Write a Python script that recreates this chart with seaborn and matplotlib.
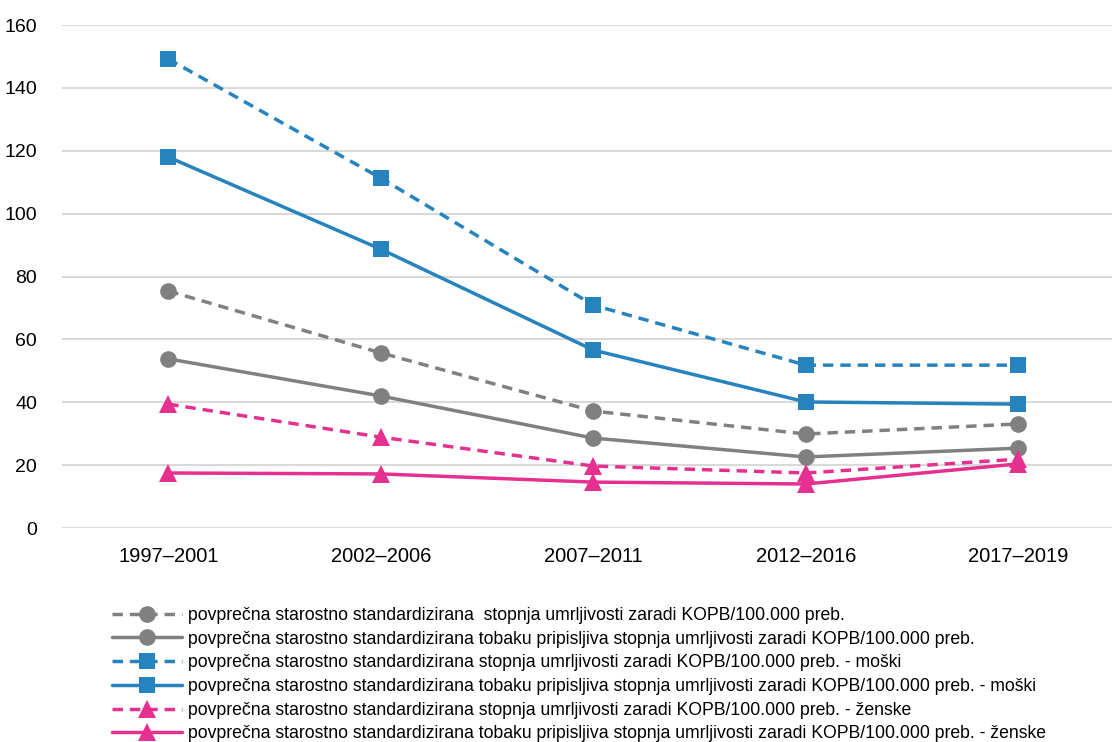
import matplotlib
matplotlib.use("Agg")
import matplotlib.pyplot as plt
import seaborn as sns
import pandas as pd

periods = ["1997–2001", "2002–2006", "2007–2011", "2012–2016", "2017–2019"]

skupaj_vsi = [75.4, 55.7, 37.2, 29.9, 33.1]
skupaj_tobak = [53.8, 42.0, 28.6, 22.6, 25.4]
moski_vsi = [149.2, 111.3, 70.9, 51.8, 51.8]
moski_tobak = [118.0, 88.7, 56.6, 40.1, 39.4]
zenske_vsi = [39.4, 28.9, 19.7, 17.5, 21.9]
zenske_tobak = [17.5, 17.2, 14.6, 14.0, 20.4]

labels = [
    "povprečna starostno standardizirana  stopnja umrljivosti zaradi KOPB/100.000 preb.",
    "povprečna starostno standardizirana tobaku pripisljiva stopnja umrljivosti zaradi KOPB/100.000 preb.",
    "povprečna starostno standardizirana stopnja umrljivosti zaradi KOPB/100.000 preb. - moški",
    "povprečna starostno standardizirana tobaku pripisljiva stopnja umrljivosti zaradi KOPB/100.000 preb. - moški",
    "povprečna starostno standardizirana stopnja umrljivosti zaradi KOPB/100.000 preb. - ženske",
    "povprečna starostno standardizirana tobaku pripisljiva stopnja umrljivosti zaradi KOPB/100.000 preb. - ženske",
]
series = [skupaj_vsi, skupaj_tobak, moski_vsi, moski_tobak, zenske_vsi, zenske_tobak]

GRAY = "#808080"
BLUE = "#2683BE"
PINK = "#E5308F"
styles = [
    (GRAY, "o", True),
    (GRAY, "o", False),
    (BLUE, "s", True),
    (BLUE, "s", False),
    (PINK, "^", True),
    (PINK, "^", False),
]

sns.set_theme(style="white")
plt.rcParams["font.family"] = ["Liberation Sans", "DejaVu Sans"]

fig = plt.figure(figsize=(11.13, 7.42), dpi=100)
ax = fig.add_axes([0.0557, 0.2884, 0.9433, 0.6779])

xpos = list(range(len(periods)))
for vals, lab, (col, mk, dashed) in zip(series, labels, styles):
    df = pd.DataFrame({"x": xpos, "y": vals})
    ms = 12 if mk != "^" else 13
    sns.lineplot(data=df, x="x", y="y", ax=ax, color=col, marker=mk,
                 markersize=ms, markeredgewidth=0, linewidth=2.5,
                 linestyle=(0, (3, 2)) if dashed else "-", label=lab,
                 legend=False)

ax.set_xlim(-0.5, 4.44)
ax.set_ylim(0, 160)
ax.set_yticks(range(0, 161, 20))
ax.set_xticks(xpos)
ax.set_xticklabels(periods)
ax.set_xlabel("")
ax.set_ylabel("")
ax.yaxis.grid(True, color="#D9D9D9", linewidth=1.5)
ax.xaxis.grid(False)
for s in ax.spines.values():
    s.set_visible(False)
ax.tick_params(axis="both", length=0, colors="#000000")
ax.tick_params(axis="x", pad=14, labelsize=14.5)
ax.tick_params(axis="y", pad=18, labelsize=14)

handles, labs = ax.get_legend_handles_labels()
leg = fig.legend(handles, labs, loc="upper left", bbox_to_anchor=(0.1006, 0.182),
                 frameon=False, fontsize=12.7, handlelength=3.95, handletextpad=0.34,
                 labelspacing=0.38, borderpad=0, borderaxespad=0)
for t in leg.get_texts():
    t.set_color("#000000")

fig.savefig("out.png", dpi=100)
